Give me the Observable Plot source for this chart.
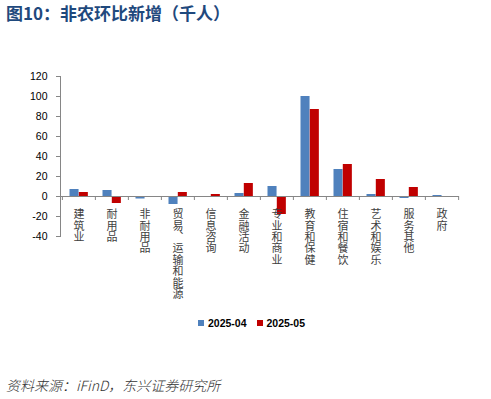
<!DOCTYPE html>
<html>
<head>
<meta charset="utf-8">
<script src="https://cdn.jsdelivr.net/npm/d3@7"></script>
<script src="https://cdn.jsdelivr.net/npm/@observablehq/plot@0.6"></script>
<style>
  body { margin: 0; background: #fff; width: 491px; height: 399px; overflow: hidden; }
  #title { height: 26px; line-height: 26px; padding-left: 6px; font-family: "Noto Sans CJK SC", sans-serif; font-weight: bold; font-size: 17px; color: #1F497D; white-space: nowrap; }
  #chart { height: 282px; }
  #legend { height: 30px; display: flex; justify-content: center; align-items: center; font-family: "Liberation Sans", Arial, sans-serif; font-weight: bold; font-size: 10.5px; color: #000; padding-left: 12px; }
  #legend .item { display: flex; align-items: center; margin: 0 5px; }
  #legend .sw { width: 6px; height: 6px; margin-right: 4px; }
  #source { padding-top: 37px; height: 20px; line-height: 20px; padding-left: 6px; font-family: "Noto Sans CJK SC", sans-serif; font-style: italic; font-weight: 300; font-size: 14px; color: #333; white-space: nowrap; }
  .xlab text { writing-mode: vertical-rl; text-orientation: upright; letter-spacing: 0.4px; }
</style>
</head>
<body>
<div id="title">图10：非农环比新增（千人）</div>
<div id="chart"></div>
<div id="legend"></div>
<div id="source">资料来源：iFinD，东兴证券研究所</div>
<script>
const categories = ["建筑业","耐用品","非耐用品","贸易、运输和能源","信息咨询","金融活动","专业和商业","教育和保健","住宿和餐饮","艺术和娱乐","服务其他","政府"];
const series = ["2025-04", "2025-05"];
const colors = ["#4F81BD", "#C00000"];
const apr = [7, 6, -2.5, -8, 0, 3, 10, 100, 27, 2, -2, 1];
const may = [4, -7, -1, 4, 2, 13, -18, 87, 32, 17, 9, -0.5];
const yTicks = [-40, -20, 0, 20, 40, 60, 80, 100, 120];

const data = categories.map((c, i) => ({cat: c, v04: apr[i], v05: may[i]}));

const W = 491, mL = 60, mR = 32;
const bw = (W - mL - mR) / categories.length;
const outer = 7.5, barW = 9.3;
const axisColor = "#868686";

const chart = Plot.plot({
  width: W,
  height: 282,
  marginLeft: mL,
  marginRight: mR,
  marginTop: 50,
  marginBottom: 72,
  style: {fontFamily: "Liberation Sans, Arial, sans-serif", background: "transparent"},
  x: {type: "band", domain: categories, padding: 0, axis: null},
  y: {domain: [-40, 120], axis: null},
  marks: [
    Plot.barY(data, {x: "cat", y: "v04", fill: colors[0], insetLeft: outer, insetRight: bw - outer - barW}),
    Plot.barY(data, {x: "cat", y: "v05", fill: colors[1], insetLeft: outer + barW, insetRight: bw - outer - 2 * barW}),
    Plot.ruleY([0], {stroke: axisColor, strokeWidth: 1}),
    Plot.ruleX(categories, {x: d => d, y1: 0, y2: 0, insetBottom: -4, dx: -bw / 2, stroke: axisColor}),
    Plot.ruleX([categories[categories.length - 1]], {x: d => d, y1: 0, y2: 0, insetBottom: -4, dx: bw / 2, stroke: axisColor}),
    Plot.frame({anchor: "left", stroke: axisColor}),
    Plot.axisY({ticks: yTicks, tickSize: 4, tickPadding: 9, stroke: axisColor, fill: "#000", fontSize: 10.5, tickFormat: d => String(d)}),
    Plot.text(categories, {x: d => d, y: 0, text: d => d, textAnchor: "start", lineAnchor: "bottom", dy: 12, fontSize: 11, fill: "#404040", fontFamily: "Noto Sans CJK SC", className: "xlab"})
  ]
});
document.getElementById("chart").appendChild(chart);

const legend = document.getElementById("legend");
series.forEach((s, i) => {
  const item = document.createElement("div");
  item.className = "item";
  const sw = document.createElement("div");
  sw.className = "sw";
  sw.style.background = colors[i];
  const t = document.createElement("span");
  t.textContent = s;
  item.appendChild(sw);
  item.appendChild(t);
  legend.appendChild(item);
});
</script>
</body>
</html>
